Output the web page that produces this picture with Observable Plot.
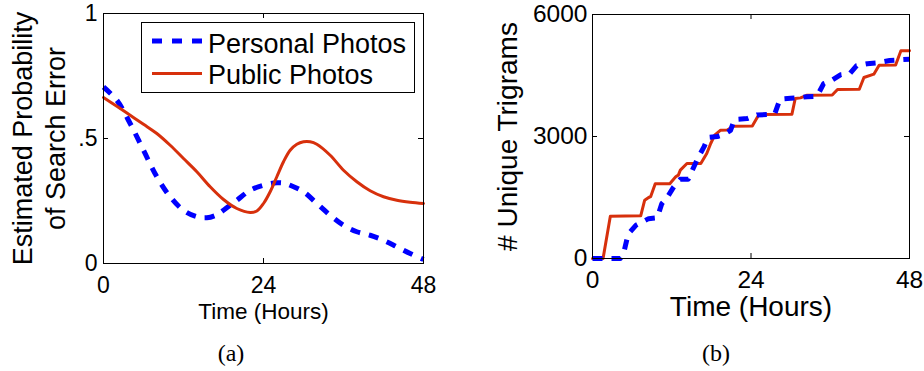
<!DOCTYPE html>
<html><head><meta charset="utf-8">
<script src="https://cdn.jsdelivr.net/npm/d3@7"></script>
<script src="https://cdn.jsdelivr.net/npm/@observablehq/plot@0.6"></script>
<style>
body{margin:0;background:#fff;}
#wrap{position:relative;width:924px;height:371px;overflow:hidden;font-family:"Liberation Sans",Arial,sans-serif;}
.panel{position:absolute;top:0;}
.caption{position:absolute;top:339px;width:60px;text-align:center;line-height:28px;font-family:"Liberation Serif","Times New Roman",serif;font-size:24px;color:#000;}
</style></head><body>
<div id="wrap"></div>
<script>
// ---------- data ----------
const seriesNames = ["Personal Photos", "Public Photos"];
const seriesColors = ["#0000ff", "#d7300c"];

// (a) Estimated probability of search error
const personalErrHours = [0,2,4,6,8,10,12,14,15.5,17,18,20,22,24,26,27,28,30,32,34,36,38,40,42,44,46,48];
const personalErr      = [0.706,0.653,0.56,0.453,0.347,0.267,0.213,0.187,0.183,0.195,0.213,0.253,0.293,0.313,0.323,0.322,0.313,0.287,0.24,0.193,0.153,0.127,0.113,0.093,0.067,0.04,0.016];
const publicErrHours   = [0,2,4,6,8,10,12,14,16,18,20,22,23,24,25,26,27,28,29,30,31,32,34,36,38,40,42,44,46,48];
const publicErr        = [0.664,0.629,0.593,0.557,0.52,0.473,0.42,0.367,0.307,0.256,0.22,0.204,0.21,0.24,0.287,0.347,0.407,0.453,0.477,0.487,0.487,0.477,0.433,0.373,0.327,0.291,0.267,0.253,0.245,0.24];

// (b) Number of unique trigrams
const personalTriHours = [0,4.2,4.7,5.4,6.6,8.5,9.8,10.5,11.3,12.3,13.3,14.5,15.2,15.9,16.9,17.5,18.9,19.9,20.9,21.5,23.4,24.9,26.5,27.6,28.4,30,31,32.5,34,35,36,37.6,39,40,41.6,43,45,48];
const personalTri      = [0,0,120,600,820,980,1000,1350,1500,1760,1950,1950,2200,2450,2750,2980,3000,3050,3150,3420,3440,3530,3540,3560,3920,3940,3950,3980,3990,4300,4360,4520,4550,4740,4790,4810,4870,4900];
const publicTriHours   = [0,1.6,2.7,7.3,7.9,8.5,8.8,9.5,11.7,12.6,13.0,13.3,14.3,16.4,17.3,17.9,18.5,19.4,20.4,21.4,24.2,25.2,30.2,30.7,31.5,32.5,36.3,37.1,40.4,41.1,42.6,43.4,45.9,46.7,48];
const publicTri        = [0,0,1041,1050,1434,1500,1520,1840,1840,2008,2050,2172,2336,2336,2582,2828,3033,3156,3160,3254,3260,3540,3550,3935,3950,4016,4020,4156,4160,4451,4533,4754,4760,5107,5110];

// ticks & labels
const xTicks = [0, 24, 48];
const xTickLabels = ["0", "24", "48"];
const yTicksA = [0, 0.5, 1];
const yTickLabelsA = ["0", ".5", "1"];
const yTicksB = [0, 3000, 6000];
const yTickLabelsB = ["0", "3000", "6000"];
const xLabel = "Time (Hours)";
const yLabelA = "Estimated Probability\nof Search Error";
const yLabelB = "# Unique Trigrams";
const captions = ["(a)", "(b)"];

// ---------- build ----------
const rows = (hs, vs) => hs.map((h, i) => ({h, v: vs[i]}));
const fontFamily = "'Liberation Sans', Arial, sans-serif";
const wrap = document.getElementById("wrap");

function panel(left, width, node) {
  const d = document.createElement("div");
  d.className = "panel";
  d.style.left = left + "px";
  d.style.width = width + "px";
  d.appendChild(node);
  wrap.appendChild(d);
  return d;
}

function innerTicks(ph, pw, yTicks) {
  return [
    Plot.tickX(xTicks, {x: d => d, insetTop: ph - 5, stroke: "#000", strokeWidth: 1}),
    Plot.tickX(xTicks, {x: d => d, insetBottom: ph - 5, stroke: "#000", strokeWidth: 1}),
    Plot.tickY(yTicks, {y: d => d, insetLeft: pw - 5, stroke: "#000", strokeWidth: 1}),
    Plot.tickY(yTicks, {y: d => d, insetRight: pw - 5, stroke: "#000", strokeWidth: 1})
  ];
}

// Panel (a)
const A = {w: 460, h: 330, ml: 103, mr: 37, mt: 13, mb: 67};
const plotA = Plot.plot({
  width: A.w, height: A.h,
  marginLeft: A.ml, marginRight: A.mr, marginTop: A.mt, marginBottom: A.mb,
  style: {fontFamily, background: "transparent", overflow: "visible", color: "#000"},
  x: {domain: [0, 48]},
  y: {domain: [0, 1]},
  marks: [
    Plot.line(rows(personalErrHours, personalErr), {x: "h", y: "v", curve: "catmull-rom", stroke: seriesColors[0], strokeWidth: 5, strokeDasharray: "10,9", strokeLinecap: "butt"}),
    Plot.line(rows(publicErrHours, publicErr), {x: "h", y: "v", curve: "catmull-rom", stroke: seriesColors[1], strokeWidth: 3}),
    ...innerTicks(A.h - A.mt - A.mb, A.w - A.ml - A.mr, yTicksA),
    Plot.frame({stroke: "#000", strokeWidth: 1}),
    Plot.axisX(xTicks, {tickSize: 0, tickPadding: 13, fontSize: 23, label: null, tickFormat: d => xTickLabels[xTicks.indexOf(d)]}),
    Plot.axisY(yTicksA, {tickSize: 0, tickPadding: 6, fontSize: 23, label: null, tickFormat: d => yTickLabelsA[yTicksA.indexOf(d)]}),
    Plot.text([xLabel], {text: d => d, frameAnchor: "bottom", textAnchor: "middle", dy: 55, lineAnchor: "bottom", fontSize: 22.5, fill: "#000"}),
    Plot.text([yLabelA], {text: d => d, frameAnchor: "left", textAnchor: "middle", rotate: -90, dx: -39, lineAnchor: "bottom", lineHeight: 1.2, fontSize: 27, fill: "#000"})
  ]
});
panel(0, A.w, plotA);

// Panel (b)
const B = {w: 464, h: 330, ml: 132, mr: 15, mt: 14, mb: 72};
const plotB = Plot.plot({
  width: B.w, height: B.h,
  marginLeft: B.ml, marginRight: B.mr, marginTop: B.mt, marginBottom: B.mb,
  style: {fontFamily, background: "transparent", overflow: "visible", color: "#000"},
  x: {domain: [0, 48]},
  y: {domain: [0, 6000]},
  marks: [
    Plot.line(rows(publicTriHours, publicTri), {x: "h", y: "v", stroke: seriesColors[1], strokeWidth: 3}),
    Plot.line(rows(personalTriHours, personalTri), {x: "h", y: "v", stroke: seriesColors[0], strokeWidth: 5, strokeDasharray: "10,9", strokeLinecap: "butt"}),
    ...innerTicks(B.h - B.mt - B.mb, B.w - B.ml - B.mr, yTicksB),
    Plot.frame({stroke: "#000", strokeWidth: 1}),
    Plot.axisX(xTicks, {tickSize: 0, tickPadding: 12, fontSize: 24.5, label: null, tickFormat: d => xTickLabels[xTicks.indexOf(d)]}),
    Plot.axisY(yTicksB, {tickSize: 0, tickPadding: 5, fontSize: 24.5, label: null, tickFormat: d => yTickLabelsB[yTicksB.indexOf(d)]}),
    Plot.text([xLabel], {text: d => d, frameAnchor: "bottom", textAnchor: "middle", dy: 57, lineAnchor: "bottom", fontSize: 28, fill: "#000"}),
    Plot.text([yLabelB], {text: d => d, frameAnchor: "left", textAnchor: "middle", rotate: -90, dx: -76, lineAnchor: "bottom", fontSize: 28, fill: "#000"})
  ]
});
panel(460, B.w, plotB);

// Legend for panel (a)
const NS = "http://www.w3.org/2000/svg";
const leg = document.createElementNS(NS, "svg");
leg.setAttribute("width", 274); leg.setAttribute("height", 71);
leg.style.position = "absolute"; leg.style.left = "141px"; leg.style.top = "22px";
leg.style.fontFamily = fontFamily;
const box = document.createElementNS(NS, "rect");
Object.entries({x: 0.5, y: 0.5, width: 273, height: 70, fill: "#fff", stroke: "#000", "stroke-width": 1}).forEach(([k, v]) => box.setAttribute(k, v));
leg.appendChild(box);
seriesNames.forEach((name, i) => {
  const cy = i === 0 ? 19 : 51.5;
  const ln = document.createElementNS(NS, "line");
  const attrs = {x1: 11, x2: 61, y1: cy, y2: cy, stroke: seriesColors[i], "stroke-width": i === 0 ? 5 : 3};
  if (i === 0) attrs["stroke-dasharray"] = "10,10";
  Object.entries(attrs).forEach(([k, v]) => ln.setAttribute(k, v));
  leg.appendChild(ln);
  const t = document.createElementNS(NS, "text");
  t.setAttribute("x", 67); t.setAttribute("y", i === 0 ? 30.5 : 62);
  t.setAttribute("font-size", 27); t.setAttribute("fill", "#000");
  t.textContent = name;
  leg.appendChild(t);
});
wrap.appendChild(leg);

// Captions
[[captions[0], 231], [captions[1], 716]].forEach(([txt, cx]) => {
  const c = document.createElement("div");
  c.className = "caption";
  c.style.left = (cx - 30) + "px";
  c.textContent = txt;
  wrap.appendChild(c);
});
</script>
</body></html>
